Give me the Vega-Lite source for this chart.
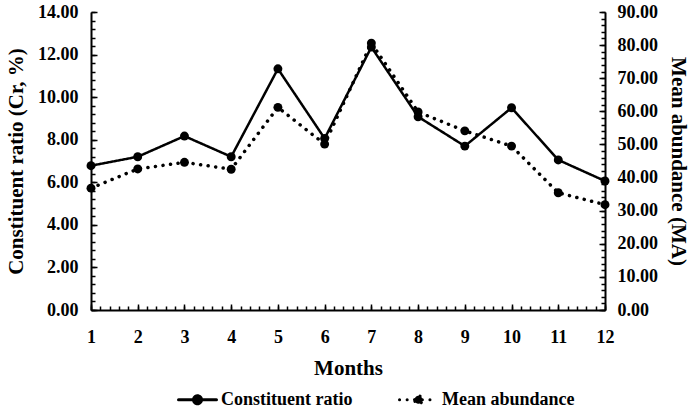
{
  "$schema": "https://vega.github.io/schema/vega-lite/v6.json",
  "width": 514,
  "height": 298,
  "autosize": {"type": "none"},
  "padding": {"left": 91, "top": 12, "right": 89, "bottom": 98},
  "background": "white",
  "data": {"values": [
    {"month": 1, "cr": 6.78, "ma": 36.8},
    {"month": 2, "cr": 7.20, "ma": 42.6},
    {"month": 3, "cr": 8.17, "ma": 44.6},
    {"month": 4, "cr": 7.20, "ma": 42.5},
    {"month": 5, "cr": 11.33, "ma": 61.2},
    {"month": 6, "cr": 8.06, "ma": 50.1},
    {"month": 7, "cr": 12.35, "ma": 80.6},
    {"month": 8, "cr": 9.08, "ma": 59.8},
    {"month": 9, "cr": 7.70, "ma": 54.1},
    {"month": 10, "cr": 9.50, "ma": 49.5},
    {"month": 11, "cr": 7.05, "ma": 35.4},
    {"month": 12, "cr": 6.06, "ma": 31.8}
  ]},
  "config": {
    "view": {"stroke": null},
    "axis": {
      "grid": false,
      "domainColor": "black",
      "domainWidth": 2,
      "tickColor": "black",
      "tickWidth": 1.5,
      "labelColor": "black",
      "labelFont": "Liberation Serif",
      "labelFontSize": 18,
      "labelFontWeight": "bold",
      "titleColor": "black",
      "titleFont": "Liberation Serif",
      "titleFontSize": 21,
      "titleFontWeight": "bold"
    },
    "legend": {
      "labelFont": "Liberation Serif",
      "labelFontSize": 18,
      "labelFontWeight": "bold",
      "labelColor": "black"
    }
  },
  "resolve": {
    "scale": {"y": "independent"},
    "axis": {"y": "independent", "x": "independent"}
  },
  "layer": [
    {
      "mark": {"type": "line", "color": "black", "strokeWidth": 2.5, "point": {"filled": true, "color": "black", "size": 80, "opacity": 1}},
      "encoding": {
        "x": {"field": "month", "type": "quantitative", "scale": {"domain": [1, 12], "nice": false, "zero": false},
          "axis": {"orient": "bottom", "values": [1,2,3,4,5,6,7,8,9,10,11,12], "format": "d", "title": "Months", "tickSize": -6, "labelPadding": 24, "titlePadding": 11, "labelFlush": false}},
        "y": {"field": "cr", "type": "quantitative", "scale": {"domain": [0, 14], "nice": false},
          "axis": {"orient": "left", "values": [0,2,4,6,8,10,12,14], "format": ".2f", "title": "Constituent ratio (Cr, %)", "tickSize": -6, "labelPadding": 19, "titlePadding": 11}},
        "strokeDash": {"datum": "Constituent ratio", "type": "nominal",
          "scale": {"domain": ["Constituent ratio", "Mean abundance"], "range": [[1, 0], [0.1, 7.5]]},
          "legend": {
            "title": null,
            "orient": "none",
            "direction": "horizontal",
            "legendX": 86,
            "legendY": 367,
            "padding": 0,
            "columnPadding": 40,
            "labelOffset": 3,
            "symbolType": "M-1,0H1M-0.21,0A0.21,0.21 0 1,1 0.21,0A0.21,0.21 0 1,1 -0.21,0Z",
            "symbolSize": 1444,
            "symbolStrokeWidth": 3,
            "symbolStrokeColor": "black",
            "symbolFillColor": "black",
            "encode": {"symbols": {"update": {"fill": {"value": "black"}, "stroke": {"value": "black"}, "strokeCap": {"value": "round"}, "opacity": {"value": 1}}}}
          }}
      }
    },
    {
      "mark": {"type": "line", "color": "black", "strokeWidth": 3.5, "strokeCap": "round", "point": {"filled": true, "color": "black", "size": 80, "opacity": 1}},
      "encoding": {
        "x": {"field": "month", "type": "quantitative", "scale": {"domain": [1, 12], "nice": false, "zero": false}, "axis": null},
        "y": {"field": "ma", "type": "quantitative", "scale": {"domain": [0, 90], "nice": false},
          "axis": {"orient": "right", "values": [0,10,20,30,40,50,60,70,80,90], "format": ".2f", "title": "Mean abundance (MA)", "tickSize": -6, "labelPadding": 18, "titlePadding": 10}},
        "strokeDash": {"datum": "Mean abundance", "type": "nominal"}
      }
    },
    {
      "mark": {"type": "point", "opacity": 0},
      "encoding": {
        "x": {"field": "month", "type": "quantitative", "scale": {"domain": [1, 12], "nice": false, "zero": false},
          "axis": {"orient": "bottom", "values": [1,1.2,1.4,1.6,1.8,2,2.2,2.4,2.6,2.8,3,3.2,3.4,3.6,3.8,4,4.2,4.4,4.6,4.8,5,5.2,5.4,5.6,5.8,6,6.2,6.4,6.6,6.8,7,7.2,7.4,7.6,7.8,8,8.2,8.4,8.6,8.8,9,9.2,9.4,9.6,9.8,10,10.2,10.4,10.6,10.8,11,11.2,11.4,11.6,11.8,12], "labels": false, "domain": false, "title": null, "tickSize": -4}},
        "y": {"field": "cr", "type": "quantitative", "scale": {"domain": [0, 14], "nice": false},
          "axis": {"orient": "left", "values": [0,0.4,0.8,1.2,1.6,2,2.4,2.8,3.2,3.6,4,4.4,4.8,5.2,5.6,6,6.4,6.8,7.2,7.6,8,8.4,8.8,9.2,9.6,10,10.4,10.8,11.2,11.6,12,12.4,12.8,13.2,13.6,14], "labels": false, "domain": false, "title": null, "tickSize": -4}}
      }
    },
    {
      "mark": {"type": "point", "opacity": 0},
      "encoding": {
        "x": {"field": "month", "type": "quantitative", "scale": {"domain": [1, 12], "nice": false, "zero": false}, "axis": null},
        "y": {"field": "ma", "type": "quantitative", "scale": {"domain": [0, 90], "nice": false},
          "axis": {"orient": "right", "values": [0,2,4,6,8,10,12,14,16,18,20,22,24,26,28,30,32,34,36,38,40,42,44,46,48,50,52,54,56,58,60,62,64,66,68,70,72,74,76,78,80,82,84,86,88,90], "labels": false, "domain": false, "title": null, "tickSize": -4}}
      }
    }
  ]
}
